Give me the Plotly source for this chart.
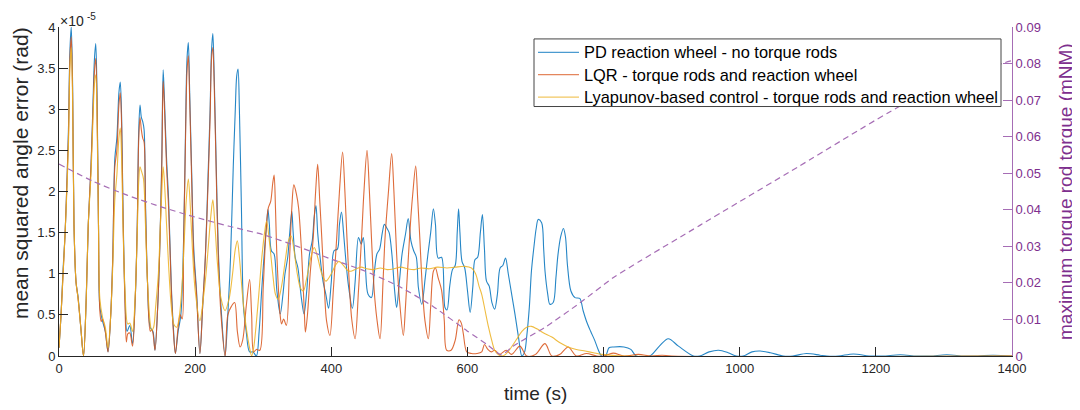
import plotly.graph_objects as go

# ---------------- data ----------------
t_pd = [0, 3, 6, 9, 12, 14, 16, 18, 20, 22, 25, 28, 32, 36,
        40, 43, 47, 50, 52, 54, 56, 58, 60, 64, 68, 72,
        76, 79, 82, 85, 88, 90, 92, 94, 97, 100, 104, 108,
        112, 115, 117, 119, 121, 123, 125, 127, 130, 134, 138, 141,
        145, 148, 151, 153, 155, 158, 161, 165, 168, 171,
        175, 179, 183, 186, 188, 190, 192, 195, 198, 202, 207,
        211, 215, 219, 222, 224, 226, 228, 231, 234, 238, 244,
        248, 252, 256, 259, 261, 263, 265, 268, 271, 275, 280, 285, 290,
        294, 298, 302, 305, 307, 309, 312, 316, 320, 325,
        329, 332, 336, 339, 342, 344, 347, 351, 356, 360,
        364, 368, 372, 375, 377.5, 380, 383, 388, 392, 396,
        400, 404, 409, 412, 415, 418, 421, 425, 431,
        435, 440, 444, 447, 450, 454, 459,
        463, 467, 471, 475, 478, 482, 485, 489, 493, 496,
        500, 504, 509, 513, 517, 521, 525, 528, 533,
        538, 542, 546, 550, 553, 557, 562, 567, 570,
        574, 578, 582, 585, 587, 589, 592, 596, 600, 604,
        608, 611, 615, 619, 622, 625, 628, 632, 636, 640,
        644, 648, 652, 656, 660, 665, 670, 675, 680,
        684, 687, 691, 694, 698, 701, 704, 709, 712, 714, 718, 721,
        726, 730, 733, 737, 741, 744, 747, 752, 758, 765, 770, 775, 781, 787, 792, 797,
        803, 808, 815, 830, 840, 848, 868, 882, 895, 910, 932, 941, 955, 969, 983, 995,
        1005, 1018, 1030, 1045, 1064, 1078, 1098, 1118, 1128, 1145, 1167, 1190,
        1210, 1236, 1260, 1280, 1304, 1330, 1350, 1372, 1400]
err_pd = [0.1, 0.5, 1.05, 1.5, 2.2, 2.8, 3.7, 4.0, 3.3, 1.6, 0.9, 0.72, 0.35, 0.0,
          0.7, 1.6, 2.3, 3.1, 3.6, 3.8, 3.1, 1.6, 0.6, 0.42, 0.3, 0.05,
          0.5, 1.2, 2.4, 2.65, 3.2, 3.33, 2.9, 1.8, 0.7, 0.3, 0.37, 0.15,
          0.7, 1.6, 2.7, 3.05, 2.9, 2.85, 2.75, 1.9, 0.9, 0.35, 0.3, 0.07,
          0.6, 1.3, 2.4, 3.48, 3.1, 2.4, 1.9, 0.85, 0.35, 0.03,
          0.3, 0.5, 1.4, 2.8, 3.6, 3.81, 3.2, 2.2, 1.3, 0.8, 0.03,
          0.6, 1.2, 2.2, 3.0, 3.7, 3.92, 3.4, 2.3, 1.3, 0.6, 0.0,
          0.5, 1.2, 2.3, 3.0, 3.4, 3.49, 3.0, 1.8, 0.6, 0.3, 0.05, 0.05, 0.0,
          0.3, 0.83, 1.3, 1.6, 1.78, 1.6, 1.28, 1.24, 0.8, 0.51,
          0.75, 1.0, 1.2, 1.5, 1.76, 1.5, 1.2, 1.07, 0.71, 0.51,
          0.8, 1.24, 1.4, 1.7, 1.83, 1.5, 1.24, 0.9, 0.75, 0.58,
          0.9, 1.28, 1.3, 1.6, 1.75, 1.5, 1.2, 0.87, 0.58,
          0.9, 1.44, 1.36, 1.44, 1.1, 0.75, 0.71,
          1.0, 1.24, 1.3, 1.5, 1.6, 1.55, 1.5, 1.24, 0.8, 0.59,
          0.9, 1.24, 1.48, 1.67, 1.4, 1.28, 1.2, 0.83, 0.63,
          0.95, 1.24, 1.5, 1.79, 1.6, 1.19, 1.2, 0.59, 0.56,
          0.85, 1.05, 1.1, 1.5, 1.79, 1.5, 1.15, 1.07, 0.8, 0.53,
          0.85, 1.17, 1.2, 1.5, 1.72, 1.3, 0.91, 0.85, 0.65, 0.57,
          0.75, 1.07, 1.1, 1.19, 1.0, 0.75, 0.5, 0.23, 0.0,
          0.05, 0.23, 0.6, 1.03, 1.35, 1.55, 1.66, 1.62, 1.3, 1.03, 0.75, 0.63,
          0.65, 0.95, 1.23, 1.45, 1.55, 1.45, 1.1, 0.79, 0.71, 0.7, 0.55, 0.42, 0.3, 0.19, 0.08, 0.0,
          0.0, 0.1, 0.11, 0.11, 0.08, 0.0, 0.0, 0.12, 0.21, 0.12, 0.0, 0.0, 0.05, 0.07, 0.04, 0.0,
          0.0, 0.05, 0.06, 0.04, 0.0, 0.0, 0.03, 0.01, 0.0, 0.0, 0.025, 0.0,
          0.0, 0.015, 0.0, 0.0, 0.015, 0.0, 0.0, 0.01, 0.0]

t_lqr = [0, 3, 6, 9, 12, 14, 16, 18, 20, 22, 25, 28, 32, 36,
         40, 43, 47, 50, 52, 54, 56, 58, 60, 62, 64, 68, 72,
         76, 79, 82, 85, 88, 90, 92, 94, 97, 99, 101, 104, 108,
         112, 115, 117, 119, 121, 123, 125, 127, 130, 134, 136, 138, 141,
         145, 148, 151, 153, 155, 158, 161, 165, 168, 171,
         175, 178, 181, 183, 186, 188, 190, 192, 195, 198, 202, 207,
         211, 215, 219, 222, 224, 226, 228, 231, 234, 238, 244,
         248, 253, 258, 262, 266, 270, 275, 280, 283, 286, 290, 295,
         300, 304, 307.5, 311, 314, 316, 318, 320, 324.7, 327, 330, 334,
         339, 342, 345, 349, 352, 356.5, 360.5, 362,
         365, 369, 373.5, 377, 380, 383, 386, 390, 393, 398,
         403, 408, 412, 416.6, 420, 423, 427, 430, 435,
         440, 444.5, 448, 452.5, 456, 459, 463, 467, 471.6,
         476, 479, 484, 488.7, 492, 496, 500, 505.8,
         509, 513.5, 517, 520, 524, 527, 530, 534, 537.6, 542.6,
         546, 550, 553, 557, 562, 566, 569.5, 576, 582, 587.6, 591, 594, 599,
         606, 614, 621, 625, 630, 635, 640, 647, 657, 665, 677, 687, 700,
         714, 724, 736, 748, 760, 775, 790, 800, 814, 830, 851, 870, 886, 900, 1400]
err_lqr = [0.1, 0.5, 1.0, 1.5, 2.2, 2.7, 3.6, 3.88, 3.2, 1.6, 0.9, 0.7, 0.35, 0.0,
           0.7, 1.6, 2.3, 3.0, 3.45, 3.62, 3.0, 1.6, 0.55, 0.42, 0.45, 0.3, 0.05,
           0.5, 1.2, 2.3, 2.5, 3.05, 3.2, 2.8, 1.7, 0.6, 0.17, 0.27, 0.28, 0.12,
           0.7, 1.6, 2.6, 2.9, 2.75, 2.65, 2.6, 1.8, 0.9, 0.3, 0.32, 0.28, 0.07,
           0.6, 1.3, 2.3, 3.34, 3.0, 2.3, 1.8, 0.8, 0.3, 0.03,
           0.35, 0.5, 0.45, 1.3, 2.7, 3.45, 3.65, 3.1, 2.1, 1.2, 0.75, 0.03,
           0.6, 1.2, 2.1, 2.9, 3.6, 3.75, 3.3, 2.2, 1.2, 0.5, 0.0,
           0.5, 0.6, 0.65, 0.3, 0.11, 0.2, 0.6, 0.93, 0.5, 0.05, 0.08, 0.07,
           0.83, 1.5, 1.8, 1.88, 2.1, 2.2, 1.8, 1.24, 0.51, 0.39, 0.45, 0.37,
           1.24, 1.8, 2.08, 1.96, 1.8, 1.24, 0.51, 0.29,
           0.5, 1.0, 1.44, 2.0, 2.33, 1.9, 1.44, 0.8, 0.43, 0.25,
           0.8, 1.44, 2.0, 2.48, 2.0, 1.44, 0.8, 0.45, 0.21,
           0.8, 1.44, 2.0, 2.5, 2.0, 1.44, 0.8, 0.45, 0.21,
           0.9, 1.44, 2.0, 2.46, 2.0, 1.24, 0.7, 0.25,
           0.6, 1.24, 1.7, 2.0, 2.31, 1.9, 1.44, 0.8, 0.43, 0.21,
           0.6, 1.03, 1.07, 0.95, 0.8, 0.43, 0.07, 0.07, 0.19, 0.44, 0.4, 0.27, 0.05,
           0.03, 0.03, 0.05, 0.14, 0.08, 0.05, 0.07, 0.02, 0.07, 0.02, 0.12, 0.0, 0.02,
           0.15, 0.0, 0.02, 0.11, 0.0, 0.03, 0.0, 0.0, 0.035, 0.0, 0.02, 0.0, 0.01, 0.0, 0.0]

t_lyap = [0, 3, 6, 9, 12, 14, 16, 18, 20, 22, 25, 28, 32, 36,
          40, 43, 47, 50, 52, 54, 56, 58, 60, 64, 68, 72,
          76, 79, 82, 85, 88, 90, 92, 94, 97, 101, 104, 108,
          112, 115, 117, 119, 121, 124, 127, 130, 134, 136, 139,
          142, 146, 149, 151, 153, 155, 158, 161, 165, 169, 173,
          177, 181, 184, 187, 190, 193, 196, 200, 207,
          212, 216, 220, 223, 226, 229, 233, 238, 244,
          250, 255, 259, 262, 265, 270, 275, 280, 283, 286,
          292, 298, 302, 305, 309, 314, 318, 322, 327, 333, 337, 341,
          345, 350, 355, 359, 364, 370, 375, 380, 386, 392,
          400, 406, 411, 418, 424, 429, 437, 444, 452, 462, 472, 482,
          492, 502, 512, 522, 532, 544, 556, 570, 582, 596, 606,
          612, 617, 621, 626, 631, 636, 640, 645, 650, 656, 664, 672, 680, 687, 694,
          702, 712, 724, 736, 748, 760, 773, 785, 797, 810, 830, 1400]
err_lyap = [0.1, 0.5, 1.0, 1.5, 2.1, 2.6, 3.5, 3.75, 3.1, 1.6, 0.9, 0.7, 0.35, 0.0,
            0.7, 1.6, 2.2, 2.9, 3.3, 3.42, 2.8, 1.6, 0.7, 0.47, 0.35, 0.1,
            0.5, 1.1, 1.9, 2.2, 2.65, 2.77, 2.4, 1.6, 0.8, 0.39, 0.4, 0.3,
            0.75, 1.5, 2.1, 2.3, 2.25, 2.16, 1.6, 0.9, 0.4, 0.31, 0.35,
            0.6, 1.0, 1.6, 2.0, 2.3, 2.1, 1.6, 1.1, 0.6, 0.38, 0.35,
            0.5, 0.9, 1.4, 1.9, 2.15, 1.8, 1.3, 0.8, 0.43,
            0.7, 1.0, 1.4, 1.7, 1.9, 1.6, 1.1, 0.7, 0.55,
            0.7, 1.0, 1.3, 1.4, 1.2, 0.7, 0.35, 0.1, 0.0, 0.1,
            0.6, 1.2, 1.5, 1.64, 1.4, 1.0, 0.75, 0.69, 0.85, 1.2, 1.4, 1.46,
            1.3, 1.0, 0.82, 0.79, 0.95, 1.2, 1.32, 1.2, 1.0, 0.91,
            1.0, 1.1, 1.15, 1.1, 1.04, 1.03, 1.06, 1.08, 1.06, 1.05, 1.07, 1.05,
            1.06, 1.08, 1.06, 1.05, 1.07, 1.06, 1.08, 1.07, 1.08, 1.09, 1.07,
            1.0, 0.85, 0.75, 0.55, 0.35, 0.18, 0.07, 0.02, 0.0, 0.02, 0.1, 0.2, 0.3, 0.35, 0.36,
            0.33, 0.28, 0.23, 0.16, 0.11, 0.08, 0.06, 0.04, 0.02, 0.01, 0.0, 0.0]

t_rod = [0, 50, 100, 150, 200, 250, 300, 350, 400, 450, 500, 550, 600, 630, 650,
         667, 716, 765, 814, 853, 942, 1088, 1235, 1320, 1385, 1400]
rod_torque = [0.0525, 0.0478, 0.0440, 0.0408, 0.0380, 0.0355, 0.0332, 0.0300, 0.0265,
              0.0232, 0.0190, 0.0135, 0.0068, 0.0030, 0.0003,
              0.0027, 0.0081, 0.0145, 0.0214, 0.0259, 0.0358, 0.0520, 0.0683, 0.0755,
              0.0800, 0.0808]

x_ticks = [0, 200, 400, 600, 800, 1000, 1200, 1400]
y_ticks = [0, 0.5, 1, 1.5, 2, 2.5, 3, 3.5, 4]
y2_ticks = [0, 0.01, 0.02, 0.03, 0.04, 0.05, 0.06, 0.07, 0.08, 0.09]

series_names = ["PD reaction wheel - no torque rods",
                "LQR - torque rods and reaction wheel",
                "Lyapunov-based control - torque rods and reaction wheel"]
series_colors = ["#0072BD", "#D95319", "#EDB120"]

# ---------------- figure ----------------
FONT = "Liberation Sans, Arial, Helvetica, sans-serif"
AX = "#262626"
PURPLE = "#7E2F8E"
PURPLE_LINE = "#A66DB5"

# page layout: the figure sits 8 px from the page's top-left corner
PL, PR, PT, PB = 59, 1012, 25, 356          # plot area in page pixels
W, H = 1072, 402
def px(x):  # page px -> paper x
    return (x - PL) / (PR - PL)
def py(y):  # page px -> paper y
    return (PB - y) / (PB - PT)

fig = go.Figure()
fig.add_trace(go.Scatter(x=t_rod, y=rod_torque, yaxis="y2", mode="lines", showlegend=False,
                         line=dict(color=PURPLE_LINE, width=1.2, dash="6px,4px", shape="spline", smoothing=0.6),
                         hoverinfo="skip"))
for tt, vv, nm, col in [(t_pd, err_pd, series_names[0], series_colors[0]),
                        (t_lqr, err_lqr, series_names[1], series_colors[1]),
                        (t_lyap, err_lyap, series_names[2], series_colors[2])]:
    fig.add_trace(go.Scatter(x=tt, y=vv, mode="lines", name=nm, showlegend=False,
                             line=dict(color=col, width=1.1, shape="spline", smoothing=0.9),
                             opacity=0.85))

fig.update_layout(
    width=W, height=H,
    margin=dict(l=PL - 8, r=W - (PR - 8), t=PT - 8, b=H - (PB - 8)),
    paper_bgcolor="white", plot_bgcolor="white",
    font=dict(family=FONT, size=13, color=AX),
    xaxis=dict(range=[0, 1400], tickvals=x_ticks, ticks="inside", ticklen=9, tickcolor=AX,
               showline=True, linecolor=AX, linewidth=1, showgrid=False, zeroline=False,
               tickfont=dict(size=13, color=AX)),
    yaxis=dict(range=[0, 4], tickvals=y_ticks, ticks="inside", ticklen=9, tickcolor=AX,
               showline=True, linecolor=AX, linewidth=1, showgrid=False, zeroline=False,
               tickfont=dict(size=13, color=AX)),
    yaxis2=dict(range=[0, 0.09], tickvals=y2_ticks, overlaying="y", side="right", anchor="x",
                ticks="inside", ticklen=9, tickcolor=PURPLE_LINE,
                showline=True, linecolor=PURPLE_LINE, linewidth=1, showgrid=False, zeroline=False,
                tickfont=dict(size=13, color=PURPLE)),
    showlegend=False,
)

# ---- legend (drawn as box + samples + text) ----
fig.add_shape(type="rect", xref="paper", yref="paper",
              x0=px(534), x1=px(1001), y0=py(105), y1=py(37),
              fillcolor="white", line=dict(color="#444444", width=1), layer="above")
row_y = [50.5, 73, 95.5]
for i in range(3):
    fig.add_shape(type="line", xref="paper", yref="paper",
                  x0=px(538), x1=px(579), y0=py(row_y[i]), y1=py(row_y[i]),
                  line=dict(color=series_colors[i], width=1.3), opacity=0.7, layer="above")
    fig.add_annotation(text=series_names[i], x=px(582), y=py(row_y[i]), xref="paper", yref="paper",
                       showarrow=False, xanchor="left", yanchor="middle",
                       font=dict(size=16.4, color="#000000"))

fig.add_annotation(text="time (s)", x=0.5, y=py(394), xref="paper", yref="paper",
                   showarrow=False, font=dict(size=19, color=AX), xanchor="center", yanchor="middle")
fig.add_annotation(text="mean squared angle error (rad)", x=px(20), y=py(172), xref="paper", yref="paper",
                   showarrow=False, textangle=-90, font=dict(size=21, color=AX),
                   xanchor="center", yanchor="middle")
fig.add_annotation(text="maximum torque rod torque (mNM)", x=px(1066), y=py(191), xref="paper", yref="paper",
                   showarrow=False, textangle=-90, font=dict(size=19, color=PURPLE),
                   xanchor="center", yanchor="middle")
# axis exponent label "×10^-5"
fig.add_annotation(text="×10", x=px(58), y=py(19), xref="paper", yref="paper",
                   showarrow=False, font=dict(size=14, color=AX), xanchor="left", yanchor="middle")
fig.add_annotation(text="-5", x=px(85), y=py(14), xref="paper", yref="paper",
                   showarrow=False, font=dict(size=10, color=AX), xanchor="left", yanchor="middle")

fig.write_html("out.html")
